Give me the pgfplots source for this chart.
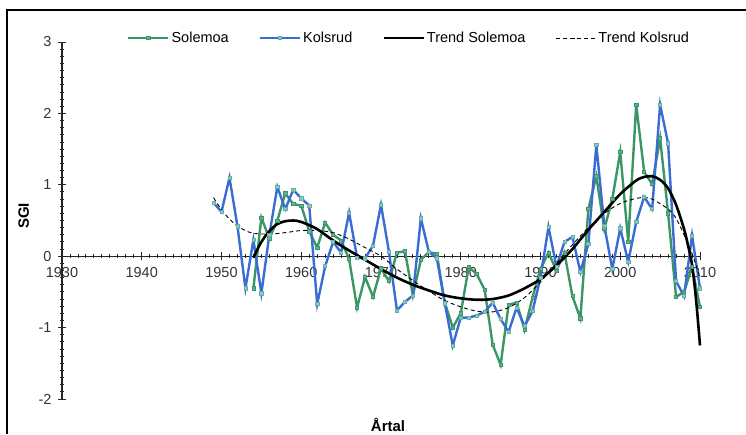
\documentclass[border=0pt]{standalone}
\usepackage{pgfplots}
\pgfplotsset{compat=1.18}
\usepackage{fontspec}
\setmainfont{Liberation Sans}
\definecolor{sgreen}{RGB}{58,150,98}
\definecolor{kblue}{RGB}{58,108,212}
\definecolor{mteal}{RGB}{96,176,166}
\begin{document}
\begin{tikzpicture}
\path[use as bounding box] (0,0) rectangle (746pt,434pt);
\draw[line width=1.2pt] (7pt,0) -- (7pt,424pt) -- (746pt,424pt);
\begin{axis}[
  at={(62pt,35pt)}, anchor=south west, scale only axis,
  width=638pt, height=357pt,
  xmin=1930, xmax=2010, ymin=-2, ymax=3,
  axis x line=middle, axis y line=left,
  hide obscured x ticks=false, hide obscured y ticks=false,
  axis line style={-, line width=1.1pt, black!85},
  every inner x axis line/.append style={-},
  every outer y axis line/.append style={-},
  xtick={1930,1940,...,2010}, ytick={-2,-1,0,1,2,3},
  minor x tick num=9, minor y tick num=9,
  tick align=center,
  major tick length=8pt, minor tick length=4pt,
  every tick/.style={black!85, line width=0.9pt},
  /pgf/number format/assume math mode=true,
  /pgf/number format/1000 sep={},
  tick label style={font=\fontsize{14.5}{16}\selectfont, text=black!80},
  xticklabel style={yshift=-4pt},
  yticklabel style={xshift=-3pt},
  xlabel={\textbf{Årtal}},
  xlabel style={at={(axis description cs:0.511,-0.073)}, anchor=center, font=\fontsize{15}{16}\selectfont},
  ylabel={\textbf{SGI}},
  ylabel style={at={(axis description cs:-0.06,0.513)}, anchor=center, rotate=0, font=\fontsize{15}{16}\selectfont},
  clip=false,
  legend columns=4,
  legend style={at={(axis description cs:0.544,1.011)}, anchor=center, draw=none, fill=none,
    font=\fontsize{14.5}{16}\selectfont, /tikz/every even column/.append style={column sep=28pt},
    inner sep=0pt},
  legend cell align=left,
  legend image code/.code={\draw[mark repeat=2,mark phase=2,#1] plot coordinates {(0pt,0pt) (20pt,0pt) (40pt,0pt)};},
]
\addplot[sgreen, line width=2.4pt, mark=square*, mark size=1.6pt, mark options={solid, fill=mteal, draw=sgreen, line width=0.6pt}] table {
1954 -0.45
1955 0.54
1956 0.25
1957 0.50
1958 0.88
1959 0.73
1960 0.71
1961 0.35
1962 0.12
1963 0.47
1964 0.30
1965 0.22
1966 -0.04
1967 -0.72
1968 -0.29
1969 -0.57
1970 -0.17
1971 -0.35
1972 0.05
1973 0.07
1974 -0.55
1975 -0.05
1976 0.06
1977 0.03
1978 -0.65
1979 -1.00
1980 -0.80
1981 -0.15
1982 -0.25
1983 -0.47
1984 -1.24
1985 -1.52
1986 -0.68
1987 -0.65
1988 -1.03
1989 -0.58
1990 -0.18
1991 0.05
1992 -0.20
1993 0.05
1994 -0.56
1995 -0.87
1996 0.66
1997 1.12
1998 0.38
1999 0.80
2000 1.46
2001 0.20
2002 2.12
2003 1.18
2004 1.01
2005 1.65
2006 0.60
2007 -0.57
2008 -0.50
2009 -0.15
2010 -0.71
};
\addlegendentry{Solemoa}
\addplot[kblue, line width=2.4pt, mark=square*, mark size=1.6pt, mark options={solid, fill=mteal!70!white, draw=mteal, line width=0.6pt}] table {
1949 0.75
1950 0.62
1951 1.10
1952 0.42
1953 -0.45
1954 0.23
1955 -0.52
1956 0.30
1957 0.97
1958 0.66
1959 0.93
1960 0.81
1961 0.71
1962 -0.67
1963 -0.14
1964 0.20
1965 0.05
1966 0.61
1967 -0.02
1968 -0.03
1969 0.15
1970 0.72
1971 0.06
1972 -0.76
1973 -0.64
1974 -0.55
1975 0.53
1976 0.06
1977 -0.03
1978 -0.66
1979 -1.25
1980 -0.86
1981 -0.86
1982 -0.83
1983 -0.78
1984 -0.65
1985 -0.88
1986 -1.06
1987 -0.72
1988 -0.98
1989 -0.77
1990 -0.30
1991 0.41
1992 -0.15
1993 0.20
1994 0.27
1995 -0.22
1996 0.17
1997 1.56
1998 0.43
1999 -0.18
2000 0.39
2001 -0.08
2002 0.48
2003 0.83
2004 0.66
2005 2.12
2006 1.58
2007 -0.35
2008 -0.56
2009 0.29
2010 -0.45
};
\addlegendentry{Kolsrud}
\addplot[black, line width=2.6pt, smooth, tension=0.5, mark=none] table {
1954 -0.02
1955 0.20
1956 0.35
1957 0.45
1958 0.49
1959 0.50
1960 0.48
1962 0.38
1964 0.22
1966 0.08
1968 -0.05
1970 -0.18
1972 -0.30
1974 -0.40
1976 -0.48
1978 -0.55
1980 -0.59
1982 -0.61
1984 -0.60
1986 -0.55
1988 -0.45
1990 -0.32
1992 -0.13
1994 0.10
1996 0.37
1998 0.62
2000 0.87
2002 1.06
2003 1.11
2004 1.12
2005 1.07
2006 0.95
2007 0.72
2008 0.38
2008.5 0.15
2009 -0.12
2009.5 -0.60
2010 -1.25
};
\addlegendentry{Trend Solemoa}
\addplot[black, line width=0.9pt, dash pattern=on 4pt off 3pt, smooth, tension=0.5, mark=none] table {
1949 0.82
1950 0.65
1951 0.52
1952 0.42
1953 0.36
1954 0.32
1956 0.31
1958 0.33
1960 0.36
1962 0.36
1964 0.33
1966 0.24
1968 0.12
1970 0.00
1972 -0.18
1974 -0.34
1976 -0.49
1978 -0.62
1980 -0.71
1982 -0.77
1984 -0.78
1986 -0.72
1988 -0.58
1990 -0.36
1992 -0.10
1994 0.16
1996 0.40
1998 0.60
2000 0.74
2002 0.81
2003 0.82
2004 0.80
2006 0.66
2007 0.53
2008 0.30
2009 0.04
2010 -0.30
};
\addlegendentry{Trend Kolsrud}
\end{axis}
\end{tikzpicture}
\end{document}
